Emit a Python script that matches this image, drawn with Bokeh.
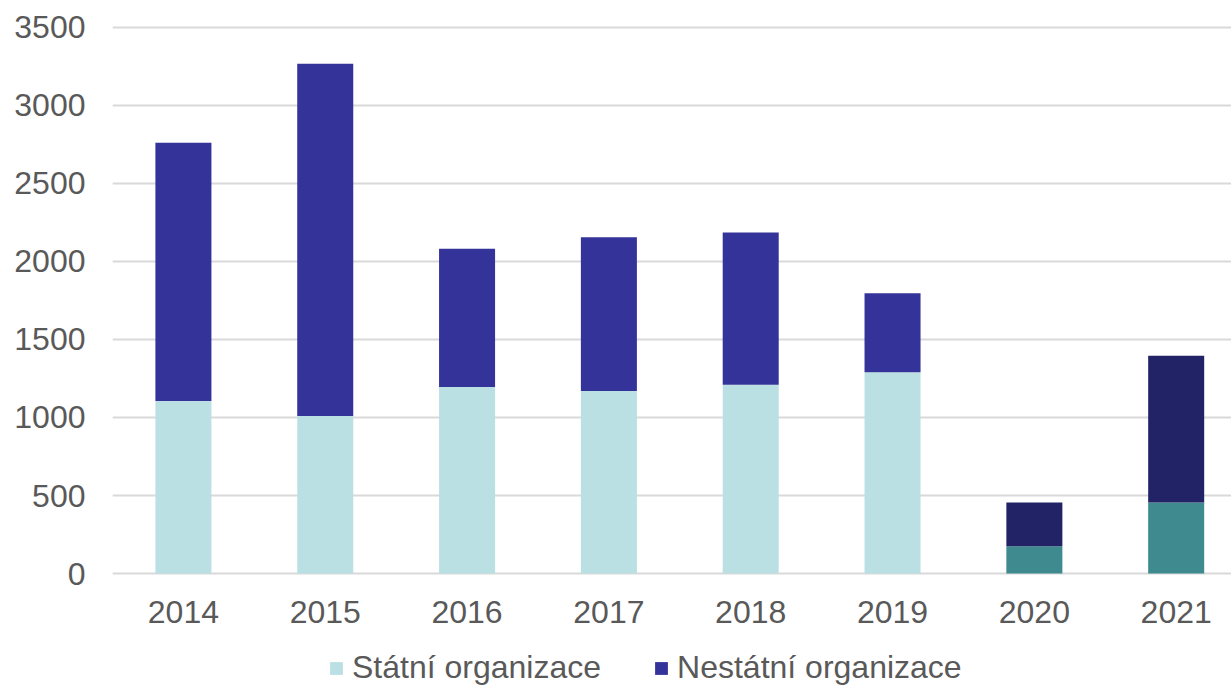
from bokeh.plotting import figure
from bokeh.layouts import column
from bokeh.models import Range1d, FixedTicker, Legend, LegendItem, ColumnDataSource
from bokeh.embed import file_html
from bokeh.resources import INLINE

years = ["2014", "2015", "2016", "2017", "2018", "2019", "2020", "2021"]
statni = [1105, 1010, 1195, 1170, 1210, 1290, 175, 455]
nestatni = [1655, 2255, 885, 985, 975, 505, 280, 940]
statni_colors = ["#BBE0E3"] * 6 + ["#3E8A8F"] * 2
nestatni_colors = ["#343399"] * 6 + ["#222366"] * 2
y_ticks = [0, 500, 1000, 1500, 2000, 2500, 3000, 3500]
labels = ["Státní organizace", "Nestátní organizace"]

xs = list(range(len(years)))
totals = [a + b for a, b in zip(statni, nestatni)]
src = ColumnDataSource(dict(x=xs, s=statni, t=totals, cs=statni_colors, cn=nestatni_colors))

FONT = "Liberation Sans"
GREY = "#595959"
FS = "32px"

p = figure(frame_width=1119, frame_height=555, output_backend="svg", toolbar_location=None,
           x_range=Range1d(-0.5, 7.39), y_range=Range1d(-25, 3530),
           min_border_left=112, min_border_right=0, min_border_top=22, min_border_bottom=58)

p.vbar(x="x", bottom=0, top="s", width=0.395, fill_color="cs", line_color=None, source=src)
p.vbar(x="x", bottom="s", top="t", width=0.395, fill_color="cn", line_color=None, source=src)

p.xaxis.ticker = FixedTicker(ticks=xs)
p.xaxis.major_label_overrides = {i: y for i, y in enumerate(years)}
p.yaxis.ticker = FixedTicker(ticks=y_ticks)

for ax in (p.xaxis[0], p.yaxis[0]):
    ax.axis_line_color = None
    ax.major_tick_line_color = None
    ax.minor_tick_line_color = None
    ax.major_tick_out = 0
    ax.major_tick_in = 0
    ax.minor_tick_out = 0
    ax.major_label_text_font = FONT
    ax.major_label_text_font_size = FS
    ax.major_label_text_color = GREY
p.xaxis.major_label_standoff = 23
p.yaxis.major_label_standoff = 27

p.xgrid.grid_line_color = None
p.ygrid.grid_line_color = "#D9D9D9"
p.ygrid.grid_line_width = 2
p.outline_line_color = None

# legend strip below the chart (its zero-width bars draw nothing; they only feed the legend swatches)
lf = figure(frame_width=1231, frame_height=51, output_backend="svg", toolbar_location=None,
            x_range=Range1d(-0.5, 7.39), y_range=Range1d(-10, -9),
            x_axis_type=None, y_axis_type=None,
            min_border_left=0, min_border_right=0, min_border_top=0, min_border_bottom=0)
lf.outline_line_color = None
l1 = lf.vbar(x="x", bottom=0, top="s", width=0, fill_color="cs", line_color=None, source=src)
l2 = lf.vbar(x="x", bottom="s", top="t", width=0, fill_color="cn", line_color=None, source=src)

legend = Legend(items=[
    LegendItem(label=labels[0], renderers=[l1], index=0),
    LegendItem(label=labels[1], renderers=[l2], index=0),
], orientation="horizontal", location=(328, 0))
legend.glyph_width = 16
legend.glyph_height = 16
legend.label_standoff = 8
legend.spacing = 52
legend.padding = 0
legend.margin = 0
legend.border_line_color = None
legend.background_fill_alpha = 0
legend.label_text_font = FONT
legend.label_text_font_size = FS
legend.label_text_color = GREY
lf.add_layout(legend, "center")

open("out.html", "w").write(file_html(column(p, lf, spacing=0), INLINE))
